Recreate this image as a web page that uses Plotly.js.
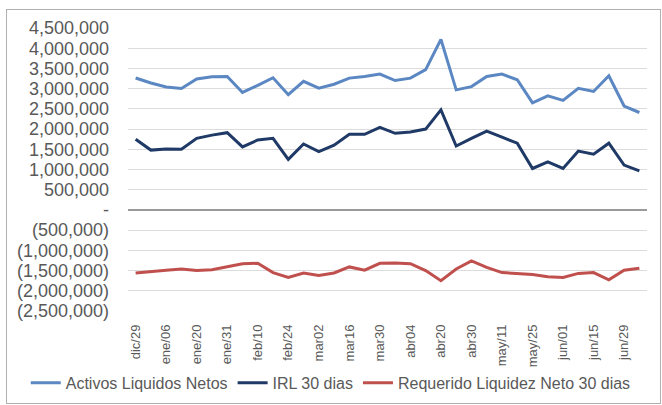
<!DOCTYPE html>
<html>
<head>
<meta charset="utf-8">
<script src="https://cdn.plot.ly/plotly-3.0.1.min.js"></script>
<style>
html,body{margin:0;padding:0;background:#fff;}
#wrap{position:relative;width:662px;height:405px;}
#chart{width:662px;height:405px;}
#frame{position:absolute;left:6px;top:9px;width:653px;height:393px;border:1px solid #b0b0b0;pointer-events:none;}
</style>
</head>
<body>
<div id="wrap"><div id="chart"></div><div id="frame"></div></div>
<script>
// Tick labels (one every two data points)
const tickLabels = ["dic/29","ene/06","ene/20","ene/31","feb/10","feb/24","mar02","mar16","mar30","abr04","abr20","abr30","may/11","may/25","jun/01","jun/15","jun/29"];

const seriesNames = ["Activos Liquidos Netos","IRL 30 dias","Requerido Liquidez Neto 30 dias"];

const activosLiquidos = [3264000,3140000,3040000,3005000,3240000,3296000,3300000,2905000,3080000,3270000,
  2850000,3180000,3010000,3110000,3260000,3300000,3360000,3200000,3260000,3470000,
  4220000,2970000,3050000,3300000,3360000,3220000,2650000,2820000,2710000,3010000,
  2930000,3320000,2570000,2410000];

const irl30 = [1746000,1480000,1510000,1500000,1770000,1850000,1910000,1560000,1730000,1770000,
  1250000,1630000,1440000,1600000,1870000,1870000,2040000,1895000,1930000,2000000,
  2475000,1580000,1770000,1950000,1800000,1650000,1025000,1190000,1025000,1455000,
  1380000,1650000,1110000,965000];

const requerido30 = [-1560000,-1520000,-1490000,-1460000,-1500000,-1480000,-1410000,-1330000,-1320000,-1550000,
  -1670000,-1560000,-1620000,-1560000,-1410000,-1490000,-1320000,-1310000,-1330000,-1500000,
  -1750000,-1460000,-1260000,-1420000,-1550000,-1580000,-1600000,-1650000,-1670000,-1570000,
  -1550000,-1730000,-1490000,-1440000];

const yTickVals = [4500000,4000000,3500000,3000000,2500000,2000000,1500000,1000000,500000,0,-500000,-1000000,-1500000,-2000000,-2500000];
const yTickText = ["4,500,000","4,000,000","3,500,000","3,000,000","2,500,000","2,000,000","1,500,000","1,000,000","500,000","-","(500,000)","(1,000,000)","(1,500,000)","(2,000,000)","(2,500,000)"];

const colors = ["#5b87c2","#1f3a66","#c0504d"];

const xs = activosLiquidos.map((_, i) => i);
const tickPos = tickLabels.map((_, i) => 2 * i);

const traces = [activosLiquidos, irl30, requerido30].map((vals, k) => ({
  type: "scatter", mode: "lines", x: xs, y: vals, name: seriesNames[k],
  line: {color: colors[k], width: 3}, hoverinfo: "skip"
}));

const font = "Liberation Sans, Arial, sans-serif";
const layout = {
  width: 662, height: 405,
  margin: {l: 128, r: 15, t: 28, b: 94, autoexpand: false},
  paper_bgcolor: "#ffffff", plot_bgcolor: "#ffffff",
  showlegend: true,
  legend: {
    orientation: "h", xref: "paper", yref: "paper",
    x: -0.197, y: -0.254, xanchor: "left", yanchor: "middle",
    bgcolor: "rgba(0,0,0,0)",
    font: {family: font, size: 16, color: "#595959"},
    itemwidth: 30, tracegroupgap: 0
  },
  xaxis: {
    range: [-0.5, 33.5], tickmode: "array", tickvals: tickPos, ticktext: tickLabels,
    tickangle: -90, showgrid: false, zeroline: false, showline: false, ticks: "",
    ticklabelstandoff: 10, automargin: false,
    tickfont: {family: font, size: 13, color: "#595959"}, fixedrange: true
  },
  yaxis: {
    range: [-2500000, 4500000], tickmode: "array", tickvals: yTickVals, ticktext: yTickText,
    showgrid: true, gridcolor: "#dcdcdc", gridwidth: 1,
    zeroline: true, zerolinecolor: "#9a9a9a", zerolinewidth: 1.3,
    showline: false, ticks: "", ticklabelstandoff: 18, automargin: false,
    tickfont: {family: font, size: 18, color: "#595959"}, fixedrange: true
  }
};

Plotly.newPlot("chart", traces, layout, {displayModeBar: false, staticPlot: true});
</script>
</body>
</html>
